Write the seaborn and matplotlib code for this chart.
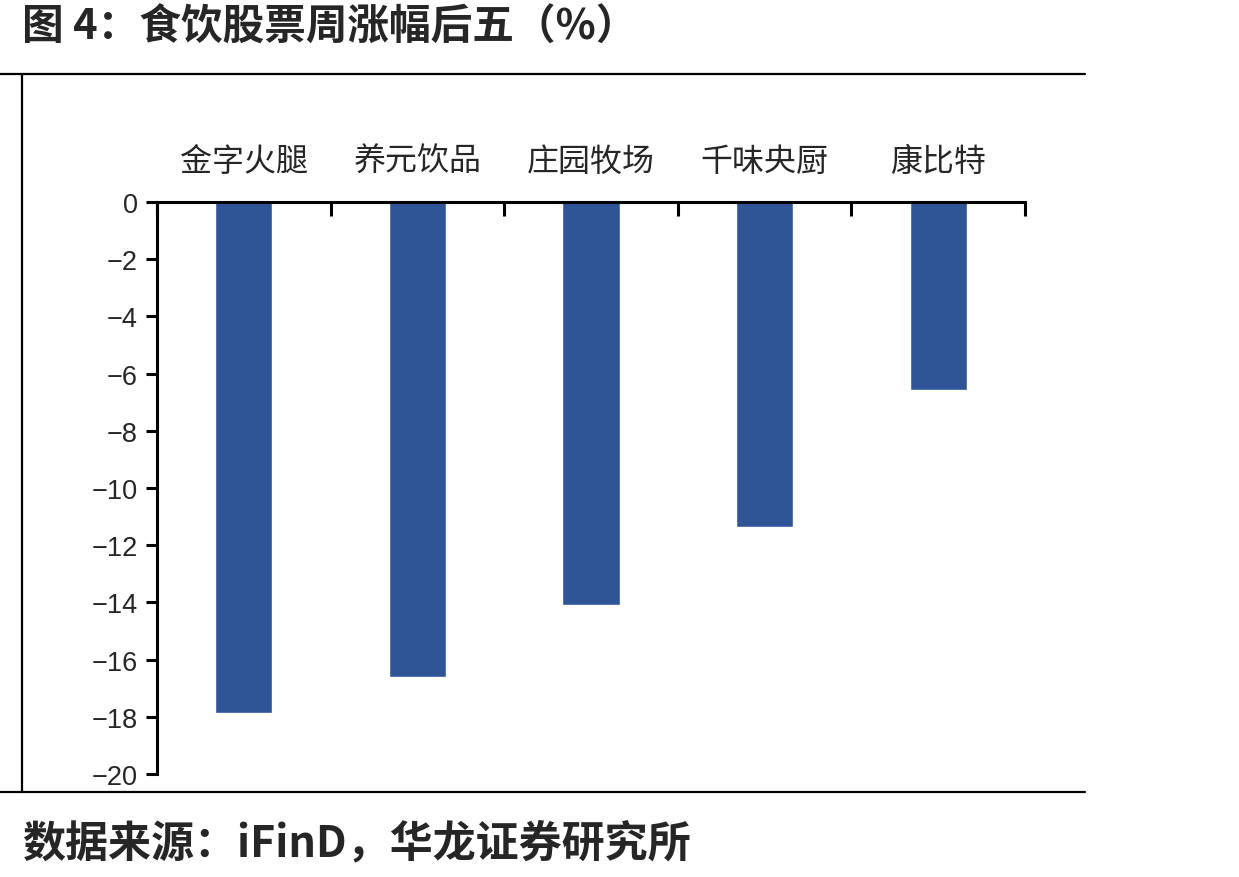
import matplotlib
matplotlib.use("Agg")
import matplotlib.pyplot as plt
from matplotlib.lines import Line2D
from matplotlib.ticker import FixedLocator
import seaborn as sns
import pandas as pd

# Data
stocks = ["金字火腿", "养元饮品", "庄园牧场", "千味央厨", "康比特"]
weekly_change = [-17.85, -16.6, -14.08, -11.38, -6.58]
y_ticks = [0, -2, -4, -6, -8, -10, -12, -14, -16, -18, -20]

title_text = "图 4：食饮股票周涨幅后五（%）"
source_text = "数据来源：iFinD，华龙证券研究所"

sns.set_style("white")
plt.rcParams["font.family"] = ["Liberation Sans", "Noto Sans CJK SC", "DejaVu Sans"]
plt.rcParams["axes.unicode_minus"] = True

fig = plt.figure(figsize=(12.39, 8.78), dpi=100)
ax = fig.add_axes([157/1239, 1-775/878, (1025-157)/1239, (775-203)/878])

df = pd.DataFrame({"stock": stocks, "change": weekly_change})
sns.barplot(data=df, x="stock", y="change", color="#2F5597", saturation=1,
            width=0.33, ax=ax)

ax.set_xlim(-0.5, len(stocks) - 0.5)
ax.set_ylim(-20, 0)
ax.set_yticks(y_ticks)
ax.set_yticklabels([f"{v}".replace("-", "\u2212") for v in y_ticks],
                   fontsize=19.5, family="Liberation Sans")
ax.set_xlabel("")
ax.set_ylabel("")

# spines
for s in ["right", "bottom"]:
    ax.spines[s].set_visible(False)
for s in ["left", "top"]:
    ax.spines[s].set_visible(True)
    ax.spines[s].set_color("black")
    ax.spines[s].set_linewidth(2.2)

# x axis on top: labels at centres, tick marks at boundaries
ax.xaxis.set_ticks_position("top")
ax.xaxis.set_label_position("top")
ax.set_xticks(range(len(stocks)))
ax.set_xticklabels(stocks, fontsize=23, family="Noto Sans CJK SC")
ax.xaxis.set_minor_locator(FixedLocator([i - 0.5 for i in range(len(stocks) + 1)]))
ax.tick_params(axis="x", which="major", length=0, pad=18, top=True, labeltop=True,
               bottom=False, labelbottom=False)
ax.tick_params(axis="x", which="minor", length=10, width=2.2, direction="in",
               top=True, bottom=False, color="black")
ax.tick_params(axis="y", which="major", length=8, width=2.2, direction="out",
               left=True, color="black", pad=6)
ax.grid(False)

# frame lines of the figure
fig.add_artist(Line2D([0, 1085/1239], [1-75/878, 1-75/878], transform=fig.transFigure,
                      color="black", lw=1.6))
fig.add_artist(Line2D([0, 1085/1239], [1-793/878, 1-793/878], transform=fig.transFigure,
                      color="black", lw=1.6))
fig.add_artist(Line2D([22/1239, 22/1239], [1-75/878, 1-793/878], transform=fig.transFigure,
                      color="black", lw=1.6))

fig.text(22/1239, 1-28/878, title_text, fontsize=30, fontweight="bold",
         family="Noto Sans CJK SC", va="center", ha="left")
fig.text(22/1239, 1-843/878, source_text, fontsize=31, fontweight="bold",
         family="Noto Sans CJK SC", va="center", ha="left")

fig.savefig("out.png", dpi=100, facecolor="white")
